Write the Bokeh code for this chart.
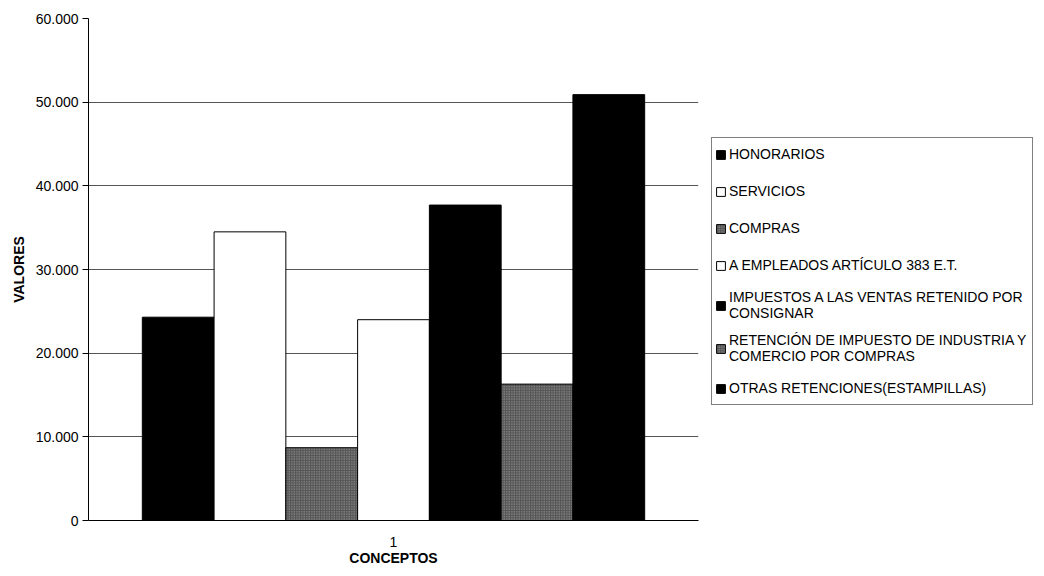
from bokeh.plotting import figure
from bokeh.layouts import row
from bokeh.models import FactorRange, Legend, LegendItem, FixedTicker, Range1d, ColumnDataSource
from bokeh.transform import dodge
from bokeh.embed import file_html
from bokeh.resources import INLINE

# ---- data ----
categories = ["1"]
series_names = [
    "HONORARIOS",
    "SERVICIOS",
    "COMPRAS",
    "A EMPLEADOS ARTÍCULO 383 E.T.",
    "IMPUESTOS A LAS VENTAS RETENIDO POR\nCONSIGNAR",
    "RETENCIÓN DE IMPUESTO DE INDUSTRIA Y\nCOMERCIO POR COMPRAS",
    "OTRAS RETENCIONES(ESTAMPILLAS)",
]
series_values = [24300, 34500, 8700, 24000, 37700, 16300, 50900]
y_ticks = [0, 10000, 20000, 30000, 40000, 50000, 60000]
y_tick_labels = ["0", "10.000", "20.000", "30.000", "40.000", "50.000", "60.000"]

# ---- styles ----
grey = dict(fill_color="#555555", hatch_pattern="dot", hatch_color="#a8a8a8",
            hatch_scale=2.5, hatch_weight=1)
styles = [
    dict(fill_color="black"),
    dict(fill_color="white"),
    grey,
    dict(fill_color="white"),
    dict(fill_color="black"),
    grey,
    dict(fill_color="black"),
]

FONT = "Liberation Sans"
H = 568

p = figure(
    width=710, height=H,
    x_range=FactorRange(*categories, range_padding=0),
    y_range=Range1d(0, 60000),
    output_backend="svg", toolbar_location=None,
    min_border_left=88, min_border_right=12, min_border_top=18, min_border_bottom=47,
)
p.outline_line_color = None
p.background_fill_color = "white"

# legend-only figure (its proxies sit outside its visible range)
lg = figure(
    width=326, height=H, x_range=Range1d(0, 1), y_range=Range1d(0, 1),
    output_backend="svg", toolbar_location=None,
    x_axis_location=None, y_axis_location=None,
    min_border=0, min_border_left=0, min_border_right=0, min_border_top=0, min_border_bottom=0,
)
lg.outline_line_color = None
lg.grid.visible = False

n = len(series_names)
bar_w = 1.0 / (n + 1.5)
items = []
for i, (name, val, st) in enumerate(zip(series_names, series_values, styles)):
    src = ColumnDataSource(dict(cat=categories, val=[val]))
    p.vbar(x=dodge("cat", (i - (n - 1) / 2) * bar_w, range=p.x_range), top="val",
           width=bar_w, source=src, line_color="black", line_width=1, **st)
    proxy = lg.vbar(x=[50], top=[1], bottom=[0], width=0.1, line_color="black", line_width=1, **st)
    items.append(LegendItem(label=name, renderers=[proxy]))

legend = Legend(items=items, location=(1, 115))
legend.border_line_color = "black"
legend.border_line_width = 1
legend.background_fill_color = "white"
legend.background_fill_alpha = 1
legend.label_text_font = FONT
legend.label_text_font_size = "14px"
legend.label_text_line_height = 1.0
legend.label_text_color = "black"
legend.glyph_width = 11
legend.glyph_height = 11
legend.label_standoff = 3
legend.padding = 3
legend.spacing = 11
legend.label_height = 26
legend.label_width = 300
legend.margin = 0
lg.add_layout(legend, "center")

# grid
p.xgrid.grid_line_color = None
p.ygrid.ticker = FixedTicker(ticks=y_ticks)
p.ygrid.grid_line_color = "#555555"
p.ygrid.grid_line_width = 1

# y axis
p.yaxis.ticker = FixedTicker(ticks=y_ticks)
p.yaxis.major_label_overrides = {t: l for t, l in zip(y_ticks, y_tick_labels)}
p.yaxis.axis_label = "VALORES"
p.yaxis.axis_label_text_font = FONT
p.yaxis.axis_label_text_font_style = "bold"
p.yaxis.axis_label_text_font_size = "14px"
p.yaxis.axis_label_text_color = "#000000"
p.yaxis.axis_label_standoff = 6
p.yaxis.major_label_text_font = FONT
p.yaxis.major_label_text_font_size = "14px"
p.yaxis.major_label_text_color = "#000000"
p.yaxis.major_label_standoff = 4
p.yaxis.major_tick_out = 6
p.yaxis.major_tick_in = 0
p.yaxis.minor_tick_out = 0
p.yaxis.minor_tick_in = 0
p.yaxis.axis_line_color = "black"
p.yaxis.major_tick_line_color = "black"

# x axis
p.xaxis.axis_label = "CONCEPTOS"
p.xaxis.axis_label_text_font = FONT
p.xaxis.axis_label_text_font_style = "bold"
p.xaxis.axis_label_text_font_size = "14px"
p.xaxis.axis_label_text_color = "#000000"
p.xaxis.axis_label_standoff = 0
p.xaxis.major_label_text_font = FONT
p.xaxis.major_label_text_font_size = "14px"
p.xaxis.major_label_text_color = "#000000"
p.xaxis.major_label_standoff = 16
p.xaxis.major_tick_out = 0
p.xaxis.major_tick_in = 0
p.xaxis.axis_line_color = "black"

layout = row(p, lg, spacing=0)
open("out.html", "w").write(file_html(layout, INLINE))
